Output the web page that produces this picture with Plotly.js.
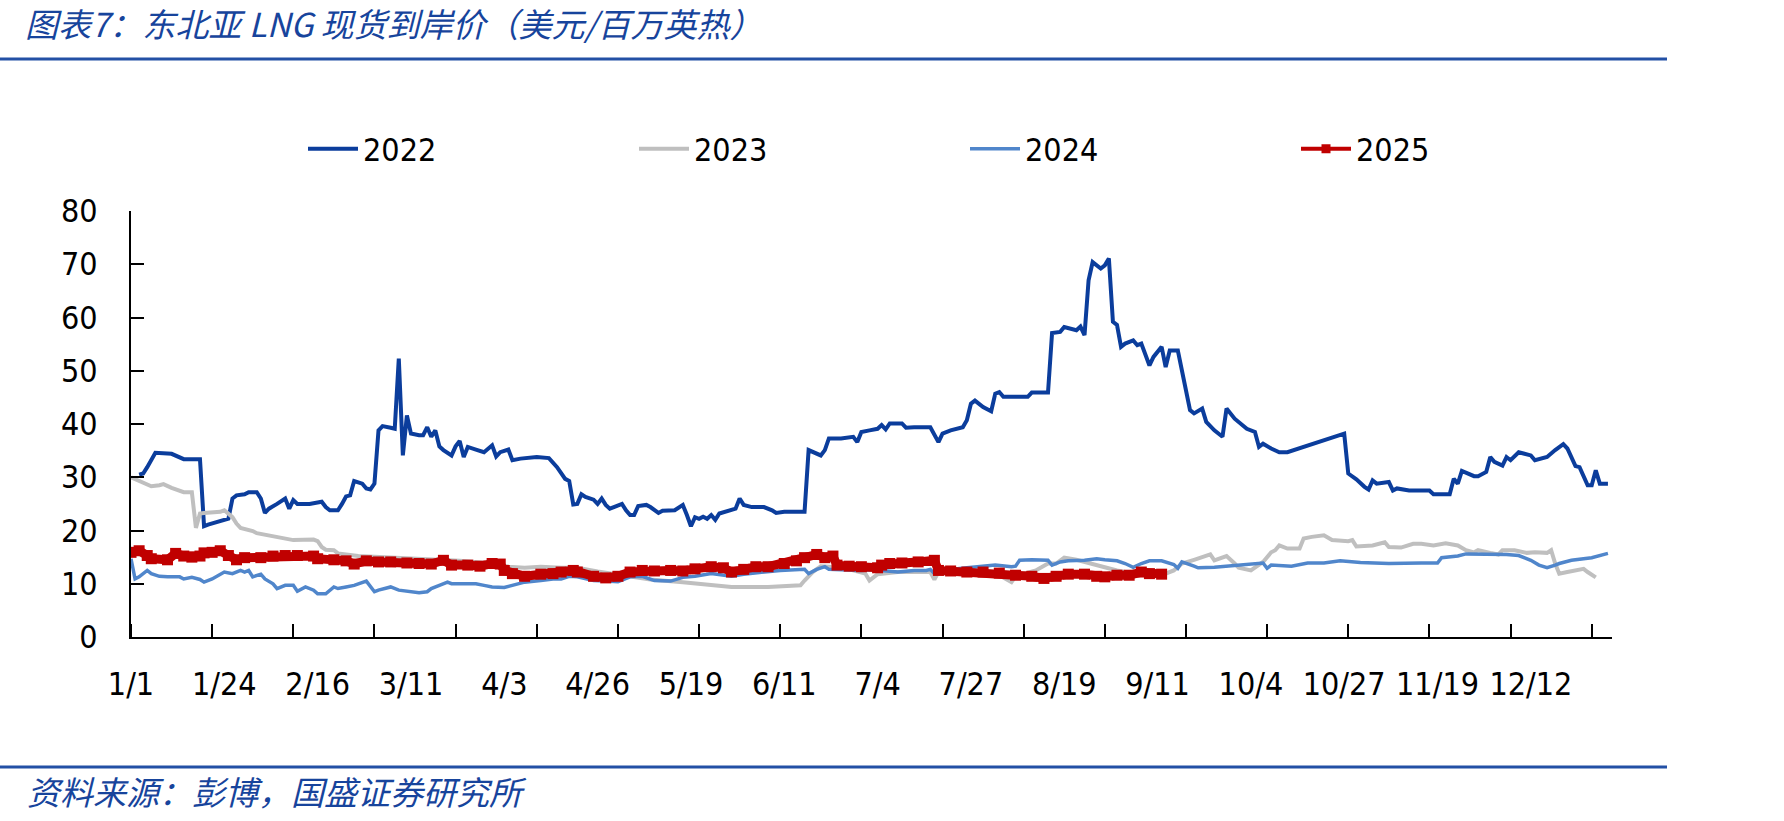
<!DOCTYPE html>
<html>
<head>
<meta charset="utf-8">
<script src="https://cdn.plot.ly/plotly-3.0.1.min.js"></script>
<style>
  html, body { margin: 0; padding: 0; background: #ffffff; }
  #chart { width: 1784px; height: 821px; }
</style>
</head>
<body>
<div id="chart"></div>
<script>
// Northeast Asia LNG spot landed price, USD/MMBtu.
// Each year: day offset from 1 Jan, and the price on that day.
const days2022 = [2,3,4,6,10,12,13,17,18,19,24,25,26,28,29,31,32,33,34,36,38,39,40,41,44,47,48,49,51,52,53,54,55,57,58,59,60,61,62,64,65,66,67,68,69,71,72,73,74,75,76,77,79,80,81,82,83,85,87,89,90,91,93,94,96,100,103,105,107,108,109,110,111,112,114,115,116,117,118,119,121,122,123,124,125,127,128,130,131,134,136,137,138,139,140,141,142,143,144,145,147,149,150,151,153,156,158,159,161,166,167,168,170,171,172,175,177,178,179,180,182,184,185,186,187,190,191,193,197,198,199,200,202,205,206,207,208,210,212,213,214,215,219,221,222,226,227,229,230,233,234,235,236,237,239,240,241,242,243,244,245,247,248,249,251,252,254,255,256,258,261,262,264,265,267,269,270,271,272,275,277,278,279,281,283,285,299,300,302,304,305,306,307,310,311,312,315,320,321,325,326,327,328,331,332,334,335,336,338,339,340,342,345,346,349,351,353,354,356,357,359,360,361,362,364];
const price2022 = [30.5,30.7,31.9,34.6,34.4,33.8,33.4,33.4,20.8,21.1,22.2,26.0,26.6,26.8,27.2,27.2,26.0,23.3,24.1,25.0,26.0,24.1,25.7,25.0,25.0,25.4,24.4,23.8,23.8,25.0,26.4,26.6,29.3,28.8,27.9,27.7,28.8,38.8,39.6,39.3,39.1,52.3,34.1,41.6,38.2,37.9,37.9,39.4,37.6,38.8,35.8,35.1,34.1,35.8,36.8,33.8,35.7,35.2,34.7,36.0,33.9,34.7,35.2,33.2,33.5,33.8,33.6,31.9,29.7,29.3,24.9,25.0,26.8,26.3,25.8,25.0,26.0,24.8,24.1,24.4,25.0,23.8,22.9,22.9,24.6,24.8,24.4,23.3,23.7,23.8,24.8,22.9,20.8,22.5,22.2,22.6,22.2,22.9,22.0,23.2,23.7,24.1,26.0,24.8,24.4,24.4,23.8,23.3,23.5,23.5,35.1,34.8,34.1,35.1,37.3,37.3,37.5,37.6,36.6,38.5,38.8,39.1,39.8,39.0,40.1,40.1,39.3,39.4,39.4,37.9,36.6,38.2,38.8,39.4,40.7,43.8,44.4,43.2,42.4,45.7,46.0,45.1,45.1,45.1,45.9,45.9,57.1,57.3,58.2,57.6,58.3,56.7,67.0,70.4,69.2,69.8,71.1,59.2,58.6,54.5,55.1,55.7,54.8,55.1,51.0,52.6,54.5,50.7,53.8,53.8,42.6,42.0,42.9,40.4,38.8,37.6,42.9,42.0,41.0,39.1,38.5,35.7,36.3,35.4,34.7,34.7,38.2,30.7,29.6,28.2,27.7,29.4,28.8,29.1,27.5,27.9,27.5,27.5,26.8,26.8,29.7,28.8,31.2,30.2,30.2,31.0,33.8,32.9,32.2,33.8,33.2,34.7,34.1,33.2,33.8,35.1,36.2,35.4,32.1,31.9,28.5,28.5,31.3,28.8,28.8];

const days2023 = [0,2,4,5,7,8,10,12,13,15,16,17,18,22,23,25,26,27,30,31,34,36,39,40,45,46,47,48,50,51,56,64,73,81,89,93,97,101,106,110,115,122,128,136,141,148,157,165,166,168,170,172,177,181,182,184,189,197,198,199,206,214,217,218,223,226,228,230,233,236,240,243,248,254,257,259,262,265,266,267,269,270,272,273,276,277,279,281,282,283,285,288,289,291,294,296,300,301,302,306,309,310,313,316,318,321,324,327,329,331,332,335,337,338,341,344,346,349,350,351,352,354,358,359,361];
const price2023 = [30.0,29.4,28.8,28.3,28.5,28.7,28.0,27.4,27.2,27.2,20.5,23.2,23.3,23.5,23.8,22.5,21.3,20.5,19.9,19.5,19.1,18.8,18.5,18.2,18.3,18.0,16.9,16.4,16.3,15.7,15.2,14.9,14.5,14.3,13.8,13.2,13.0,13.2,13.0,13.0,12.3,11.4,10.8,10.3,9.9,9.4,9.4,9.7,10.6,12.2,13.3,13.2,12.7,11.9,10.6,11.8,12.2,12.2,10.8,12.2,12.5,11.6,10.3,11.4,12.5,13.8,13.8,14.9,14.5,13.9,13.2,12.5,11.8,11.6,12.5,13.8,14.5,15.2,15.5,14.4,14.9,15.2,13.8,13.0,12.5,13.1,14.1,15.9,16.3,17.2,16.6,16.6,18.5,18.8,19.1,18.2,18.0,18.2,17.0,17.2,17.8,16.9,16.8,17.5,17.5,17.2,17.6,17.2,16.3,15.9,16.3,15.8,15.5,16.3,16.3,15.8,15.9,15.8,16.3,13.8,11.9,12.2,12.8,12.2,11.2];

const days2024 = [0,1,2,4,5,7,9,12,13,15,17,18,20,22,23,25,27,28,29,30,32,33,35,36,38,40,41,43,45,46,48,50,51,53,55,58,60,61,63,64,66,69,71,73,74,76,78,79,81,83,85,87,89,92,94,96,97,101,104,106,108,110,114,117,120,123,126,129,133,136,139,143,146,148,151,154,157,160,166,167,169,171,172,177,180,184,185,189,193,196,197,198,202,206,210,213,217,218,219,222,226,227,229,231,235,238,240,243,245,247,249,251,254,257,258,259,262,263,267,270,275,279,280,281,286,290,294,298,303,310,318,322,323,327,329,335,339,342,345,347,349,351,352,355,360,364];
const price2024 = [14.7,10.9,11.3,12.5,11.9,11.4,11.3,11.3,10.9,11.2,10.8,10.3,10.9,11.8,12.2,11.9,12.5,12.2,12.5,11.3,11.8,10.9,10.0,9.1,9.7,9.7,8.6,9.4,8.8,8.1,8.1,9.4,9.1,9.4,9.7,10.5,8.5,8.8,9.1,9.4,8.8,8.6,8.3,8.5,9.1,9.7,10.3,10.0,10.0,9.9,10.0,9.7,9.4,9.3,9.7,10.2,10.3,10.6,10.9,10.9,11.4,11.3,10.6,10.5,10.4,11.3,11.4,10.6,10.5,11.2,11.4,11.9,11.6,11.4,11.8,12.0,12.2,12.5,12.7,11.9,12.7,13.2,12.7,12.5,12.5,12.7,12.5,12.2,12.5,12.5,12.7,11.9,12.7,13.0,13.2,13.5,13.2,13.3,14.4,14.5,14.4,13.5,14.1,14.3,14.4,14.7,14.5,14.3,13.8,13.1,13.8,14.3,14.3,13.6,12.9,14.1,13.3,13.0,13.1,13.3,13.6,13.9,12.9,13.5,13.3,13.9,13.9,14.3,14.0,13.8,13.9,13.9,14.9,15.2,15.6,15.6,15.5,15.3,14.4,13.5,13.0,13.5,13.8,14.4,14.9,15.7];

const days2025 = [0,2,4,5,9,11,13,15,17,18,20,22,24,26,28,32,35,38,41,45,46,50,53,55,58,61,64,68,71,74,77,79,83,86,89,91,92,94,97,101,104,106,109,110,114,117,120,123,126,129,133,136,139,143,146,148,151,154,157,161,164,166,169,171,173,174,177,180,184,185,187,190,194,198,199,202,206,210,214,218,222,225,228,231,235,238,240,243,246,249,251,254];
const price2025 = [15.9,16.2,15.3,14.7,14.5,15.7,15.2,15.0,15.2,15.8,15.9,16.2,15.3,14.5,14.9,14.9,15.2,15.3,15.3,15.2,14.7,14.5,14.3,13.7,14.3,14.1,14.1,13.9,13.8,13.7,14.4,13.5,13.5,13.3,13.8,13.7,12.5,11.9,11.4,11.8,11.9,12.2,12.5,12.2,11.4,11.1,11.4,12.2,12.5,12.4,12.5,12.4,12.8,13.2,13.0,12.2,12.7,13.2,13.2,13.8,14.3,14.9,15.5,14.9,15.2,13.5,13.3,13.2,13.0,13.5,13.8,13.9,14.1,14.4,12.5,12.4,12.2,12.2,12.0,11.6,11.4,11.0,11.4,11.8,11.8,11.4,11.3,11.6,11.6,12.2,11.9,11.8];

// Date labels along the horizontal axis (month/day)
const tickLabels = ['1/1','1/24','2/16','3/11','4/3','4/26','5/19','6/11','7/4','7/27','8/19','9/11','10/4','10/27','11/19','12/12'];

const seriesNames = ['2022', '2023', '2024', '2025'];
const titleText = '图表7：东北亚 LNG 现货到岸价（美元/百万英热）';
const sourceText = '资料来源：彭博，国盛证券研究所';

// "M/D" -> days since 1 Jan (common, non-leap calendar)
function dayOffset(md) {
  const parts = md.split('/').map(Number);
  return (Date.UTC(2021, parts[0] - 1, parts[1]) - Date.UTC(2021, 0, 1)) / 86400000;
}
const tickVals = tickLabels.map(dayOffset);

const latinFont = "'DejaVu Sans Condensed', 'DejaVu Sans', sans-serif";
const cjkFont = "'Noto Sans CJK SC', 'Noto Sans', sans-serif";
const headBlue = '#17449c';
const red = '#c00000';

const traces = [
  { x: days2022, y: price2022, name: seriesNames[0], type: 'scatter', mode: 'lines',
    line: { color: '#0b3d9c', width: 4 } },
  { x: days2023, y: price2023, name: seriesNames[1], type: 'scatter', mode: 'lines',
    line: { color: '#bfbfbf', width: 4 } },
  { x: days2024, y: price2024, name: seriesNames[2], type: 'scatter', mode: 'lines',
    line: { color: '#5086cb', width: 3.5 } },
  // heavy band of square markers for the current year
  { x: days2025, y: price2025, name: seriesNames[3], type: 'scatter', mode: 'lines+markers',
    line: { color: red, width: 9 }, marker: { symbol: 'square', size: 11, color: red },
    showlegend: false },
  // same series again, thinner, so the legend swatch stays slim
  { x: days2025, y: price2025, name: seriesNames[3], type: 'scatter', mode: 'lines+markers',
    line: { color: red, width: 4 }, marker: { symbol: 'square', size: 9, color: red } }
];

const plotLeft = 131, plotTop = 211, plotW = 1481, plotH = 426;
const plotBottom = plotTop + plotH;
const px2paperX = px => (px - plotLeft) / plotW;
const px2paperY = py => (plotBottom - py) / plotH;

const layout = {
  width: 1784,
  height: 821,
  margin: { l: plotLeft, r: 1784 - plotLeft - plotW, t: plotTop, b: 821 - plotBottom, pad: 0 },
  paper_bgcolor: '#ffffff',
  plot_bgcolor: '#ffffff',
  showlegend: true,
  hovermode: false,
  title: {
    text: titleText,
    xref: 'container', yref: 'container',
    x: 25 / 1784, xanchor: 'left',
    y: 1 - 25 / 821, yanchor: 'middle',
    font: { family: cjkFont, size: 33, color: headBlue, style: 'italic' }
  },
  xaxis: {
    range: [0, 365],
    tickmode: 'array',
    tickvals: tickVals,
    ticktext: tickLabels,
    ticks: '',
    showline: true, linecolor: '#000000', linewidth: 2,
    showgrid: false, zeroline: false,
    ticklabelstandoff: 18,
    tickfont: { family: latinFont, size: 32, color: '#000000' },
    minor: { tickmode: 'linear', tick0: 0, dtick: 20, ticks: 'inside', ticklen: 13,
             tickwidth: 2, tickcolor: '#000000', showgrid: false }
  },
  yaxis: {
    range: [0, 80],
    tickmode: 'linear', tick0: 0, dtick: 10,
    ticks: 'inside', ticklen: 13, tickwidth: 2, tickcolor: '#000000',
    showline: true, linecolor: '#000000', linewidth: 2,
    showgrid: false, zeroline: false,
    ticklabelstandoff: 25,
    tickfont: { family: latinFont, size: 32, color: '#000000' }
  },
  legend: {
    orientation: 'h',
    x: px2paperX(303), xanchor: 'left',
    y: px2paperY(149), yanchor: 'middle',
    entrywidth: 266, entrywidthmode: 'pixels',
    itemwidth: 50,
    traceorder: 'normal',
    bgcolor: 'rgba(0,0,0,0)',
    font: { family: latinFont, size: 32, color: '#000000' }
  },
  shapes: [
    { type: 'line', xref: 'paper', yref: 'paper',
      x0: px2paperX(0), x1: px2paperX(1667), y0: px2paperY(59), y1: px2paperY(59),
      line: { color: '#2350a5', width: 3 } },
    { type: 'line', xref: 'paper', yref: 'paper',
      x0: px2paperX(0), x1: px2paperX(1667), y0: px2paperY(767), y1: px2paperY(767),
      line: { color: '#2350a5', width: 3 } }
  ],
  annotations: [
    { text: sourceText, showarrow: false,
      xref: 'paper', yref: 'paper',
      x: px2paperX(25), xanchor: 'left',
      y: px2paperY(791), yanchor: 'middle',
      font: { family: cjkFont, size: 33, color: headBlue, style: 'italic' } }
  ]
};

Plotly.newPlot('chart', traces, layout, { staticPlot: true, displayModeBar: false });
</script>
</body>
</html>
